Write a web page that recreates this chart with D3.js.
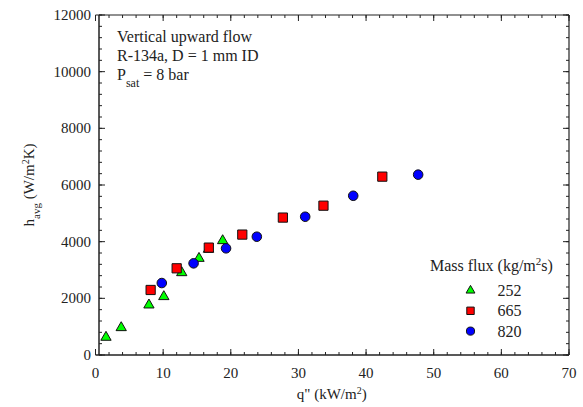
<!DOCTYPE html>
<html>
<head>
<meta charset="utf-8">
<script src="https://cdn.jsdelivr.net/npm/d3@7"></script>
</head>
<body style="margin:0;background:#fff">
<div id="chart"></div>
<script>
// data
var g252_x = [1.55, 3.8, 7.9, 10.1, 12.75, 15.3, 16.7, 18.8];
var g252_y = [625, 965, 1765, 2060, 2905, 3410, 3730, 4035];
var g665_x = [8.15, 12.0, 16.75, 21.7, 27.7, 33.7, 42.4];
var g665_y = [2295, 3060, 3790, 4250, 4850, 5270, 6295];
var g820_x = [9.8, 14.5, 19.3, 23.85, 31.0, 38.1, 47.7];
var g820_y = [2540, 3235, 3765, 4175, 4880, 5620, 6365];
var fluxLabels = ["252", "665", "820"];
var xTicks = [0, 10, 20, 30, 40, 50, 60, 70];
var yTicks = [0, 2000, 4000, 6000, 8000, 10000, 12000];

var width = 583, height = 407;
var pLeft = 95.5, pRight = 569, pTop = 15, pBottom = 355;
var serif = "'Liberation Serif', 'DejaVu Serif', serif";

var svg = d3.select("#chart").append("svg")
    .attr("width", width)
    .attr("height", height)
    .attr("font-family", serif)
    .style("font-family", serif);

var x = d3.scaleLinear().domain([0, 70]).range([pLeft, pRight]);
var y = d3.scaleLinear().domain([0, 12000]).range([pBottom, pTop]);

var xMinor = d3.range(0, 70.01, 2);
var yMinor = d3.range(0, 12000.1, 400);

function tickSet(g, vals, len, orient) {
    g.selectAll("line").data(vals).enter().append("line")
        .attr("stroke", "#222").attr("stroke-width", 1)
        .attr("x1", function(d) { return orient == "b" || orient == "t" ? x(d) : (orient == "l" ? pLeft + 3.5 : pRight); })
        .attr("x2", function(d) { return orient == "b" || orient == "t" ? x(d) : (orient == "l" ? pLeft + 3.5 + len : pRight - len); })
        .attr("y1", function(d) { return orient == "b" ? pBottom : (orient == "t" ? pTop : y(d)); })
        .attr("y2", function(d) { return orient == "b" ? pBottom - len : (orient == "t" ? pTop + len : y(d)); });
}

var axes = svg.append("g");
// frame
axes.append("line").attr("x1", pLeft).attr("x2", pRight).attr("y1", pBottom).attr("y2", pBottom).attr("stroke", "#222").attr("stroke-width", 1.5);
axes.append("line").attr("x1", pLeft).attr("x2", pRight).attr("y1", pTop).attr("y2", pTop).attr("stroke", "#222").attr("stroke-width", 1.2);
axes.append("line").attr("x1", pLeft + 3.5).attr("x2", pLeft + 3.5).attr("y1", pTop).attr("y2", pBottom).attr("stroke", "#222").attr("stroke-width", 1.5);
axes.append("line").attr("x1", pRight).attr("x2", pRight).attr("y1", pTop).attr("y2", pBottom).attr("stroke", "#222").attr("stroke-width", 1.2);

tickSet(axes.append("g"), xMinor, 3, "b");
tickSet(axes.append("g"), xTicks, 6, "b");
tickSet(axes.append("g"), xMinor, 3, "t");
tickSet(axes.append("g"), xTicks, 6, "t");
tickSet(axes.append("g"), yMinor, 3, "l");
tickSet(axes.append("g"), yTicks, 6, "l");
tickSet(axes.append("g"), yMinor, 3, "r");
tickSet(axes.append("g"), yTicks, 6, "r");

function label(parent, size) {
    return parent.append("text")
        .attr("fill", "#222")
        .style("font-family", serif)
        .style("font-size", size + "px");
}

// tick labels
xTicks.forEach(function(d) {
    label(axes, 15).attr("x", x(d)).attr("y", 378).attr("text-anchor", "middle").text(d);
});
yTicks.forEach(function(d) {
    label(axes, 15).attr("x", 91).attr("y", y(d) + 5).attr("text-anchor", "end").text(d);
});

// axis titles
var xt = label(svg, 15).attr("x", x(35) - 0.5).attr("y", 399).attr("text-anchor", "middle");
xt.append("tspan").text("q\" (kW/m");
xt.append("tspan").attr("baseline-shift", "super").style("font-size", "10px").text("2");
xt.append("tspan").text(")");

var yt = label(svg, 15)
    .attr("transform", "translate(34," + ((pTop + pBottom) / 2) + ") rotate(-90)")
    .attr("text-anchor", "middle");
yt.append("tspan").text("h");
yt.append("tspan").attr("baseline-shift", "sub").style("font-size", "11px").text("avg");
yt.append("tspan").text(" (W/m");
yt.append("tspan").attr("baseline-shift", "super").style("font-size", "10px").text("2");
yt.append("tspan").text("K)");

// annotation
label(svg, 16).attr("x", 117).attr("y", 42).text("Vertical upward flow");
label(svg, 16).attr("x", 117).attr("y", 61).text("R-134a, D = 1 mm ID");
var ps = label(svg, 16).attr("x", 117).attr("y", 80);
ps.append("tspan").text("P");
ps.append("tspan").attr("baseline-shift", "sub").style("font-size", "12px").text("sat");
ps.append("tspan").text(" = 8 bar");

// series
var series = [
    {xs: g252_x, ys: g252_y, sym: d3.symbolTriangle, size: 46, fill: "#00ff00"},
    {xs: g665_x, ys: g665_y, sym: d3.symbolSquare, size: 85, fill: "#ff0000"},
    {xs: g820_x, ys: g820_y, sym: d3.symbolCircle, size: 72, fill: "#0000ff"}
];

series.forEach(function(s) {
    svg.append("g").selectAll("path").data(d3.range(s.xs.length)).enter().append("path")
        .attr("transform", function(i) { return "translate(" + x(s.xs[i]) + "," + y(s.ys[i]) + ")"; })
        .attr("d", d3.symbol().type(s.sym).size(s.size))
        .attr("fill", s.fill)
        .attr("stroke", "#111")
        .attr("stroke-width", 1);
});

// legend
var lt = label(svg, 16).attr("x", 430).attr("y", 271);
lt.append("tspan").text("Mass flux (kg/m");
lt.append("tspan").attr("baseline-shift", "super").style("font-size", "11px").text("2");
lt.append("tspan").text("s)");

var legSizes = [34, 55, 52];
series.forEach(function(s, i) {
    var ly = 290.5 + i * 20.3;
    svg.append("path")
        .attr("transform", "translate(470.5," + ly + ")")
        .attr("d", d3.symbol().type(s.sym).size(legSizes[i]))
        .attr("fill", s.fill)
        .attr("stroke", "#111")
        .attr("stroke-width", 1);
    label(svg, 16).attr("x", 497.5).attr("y", ly + 5.5).text(fluxLabels[i]);
});
</script>
</body>
</html>
